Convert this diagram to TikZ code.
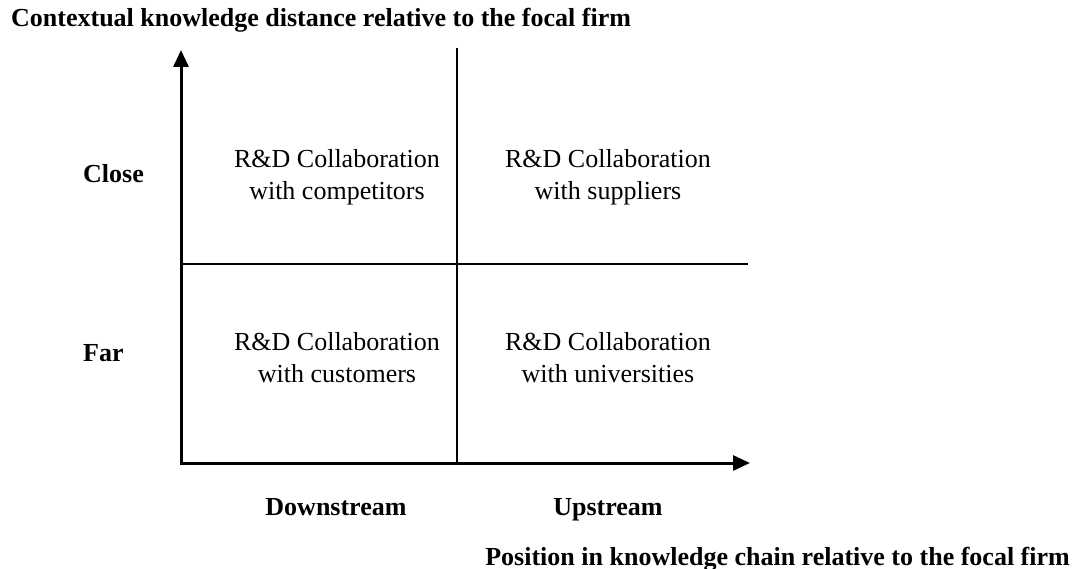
\documentclass[tikz,border=0pt]{standalone}
\usepackage{fontspec}
\setmainfont{Liberation Serif}
\usetikzlibrary{arrows.meta}

\tikzset{
	axislabel/.style={inner sep=0pt, font=\fontsize{26}{31}\selectfont\bfseries},
	cell/.style={align=center, inner sep=0pt, font=\fontsize{26}{32}\selectfont},
}

\begin{document}
\begin{tikzpicture}[x=1pt, y=-1pt, line join=miter, >={Triangle[width=15pt,length=17pt]}]
	\useasboundingbox (0,0) rectangle (1075,569);
	% frame of the matrix
	\coordinate (O) at (181,463);
	\coordinate (Ytip) at (181,50);
	\coordinate (Xtip) at (750,463);
	\coordinate (Mtop) at (457,48);
	\coordinate (Mbot) at (457,463);
	\coordinate (Mleft) at (181,264);
	\coordinate (Mright) at (748,264);
	\draw[line width=1.3pt] (Mtop)--(Mbot) (Mleft)--(Mright);
	\draw[<->, line width=3pt] (Ytip)--(O)--(Xtip);
	% axis titles and levels
	\node[axislabel, anchor=base west] (ytitle) at (11,27) {Contextual knowledge distance relative to the focal firm};
	\node[axislabel, anchor=base west] (close) at (83,183) {Close};
	\node[axislabel, anchor=base west] (far) at (83,361) {Far};
	\node[axislabel, anchor=base] (down) at (336,515) {Downstream};
	\node[axislabel, anchor=base] (up) at (608,515) {Upstream};
	\node[axislabel, anchor=base east] (xtitle) at (1070,565) {Position in knowledge chain relative to the focal firm};
	% the four cells
	\node[cell] (comp) at (337,177) {R\&D Collaboration\\with competitors};
	\node[cell] (supp) at (608,177) {R\&D Collaboration\\with suppliers};
	\node[cell] (cust) at (337,358) {R\&D Collaboration\\with customers};
	\node[cell] (univ) at (608,358) {R\&D Collaboration\\with universities};
\end{tikzpicture}
\end{document}
